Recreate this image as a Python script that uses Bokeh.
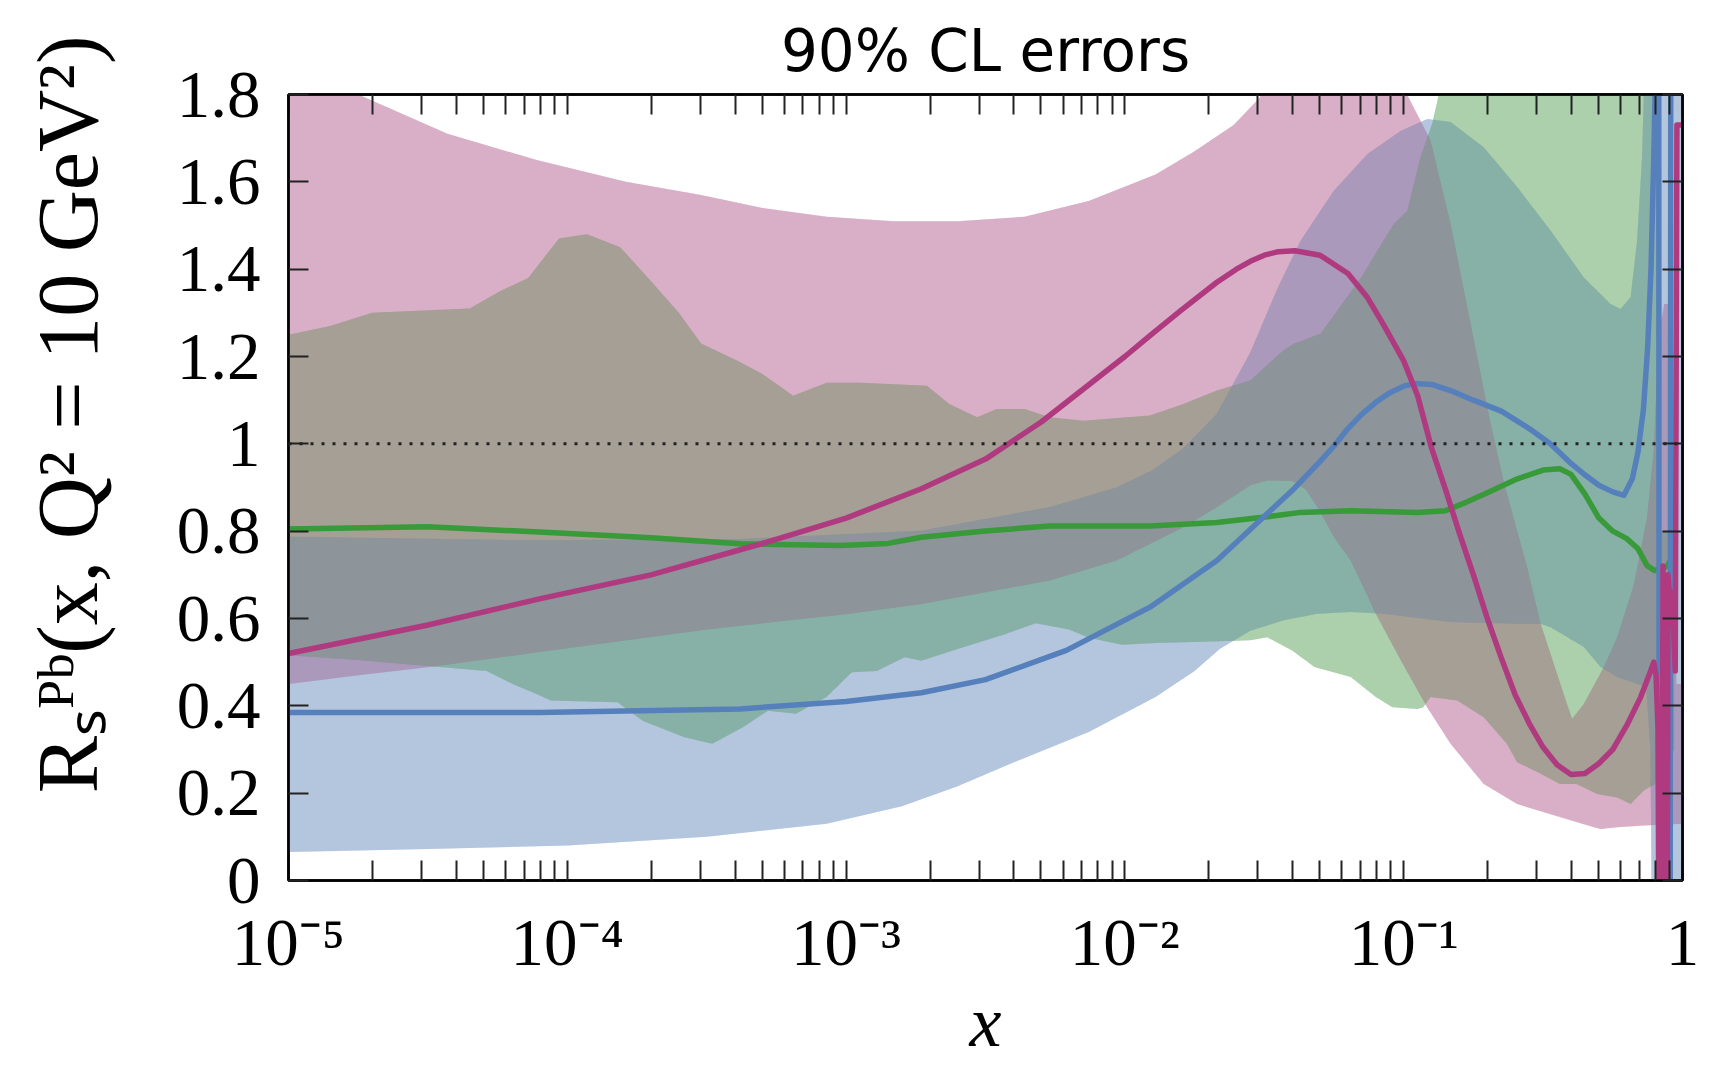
import numpy as np
from itertools import permutations
from bokeh.plotting import figure
from bokeh.models import Range1d, FixedTicker, LogAxis, LinearAxis, Span
from bokeh.embed import file_html
from bokeh.resources import INLINE

# ---------------- data (x given as log10(x)) ----------------
pink_upper_logx = [-5.0, -4.75, -4.43, -4.11, -3.79, -3.52, -3.30, -3.07, -2.83, -2.60, -2.36, -2.13, -1.89, -1.75,
                   -1.61, -1.52, -1.45, -1.25, -1.08, -0.988, -0.904, -0.832, -0.760, -0.688, -0.640, -0.557, -0.509,
                   -0.438, -0.396, -0.354, -0.282, -0.234, -0.174, -0.127, -0.103, -0.085, -0.065, -0.035, -0.022, 0.0]
pink_upper = [1.87, 1.80, 1.71, 1.65, 1.60, 1.57, 1.54, 1.52, 1.51, 1.51, 1.52, 1.556, 1.617, 1.67,
              1.73, 1.79, 1.86, 1.95, 1.88, 1.80, 1.695, 1.504, 1.275, 1.046, 0.91, 0.717, 0.588,
              0.45, 0.37, 0.404, 0.489, 0.557, 0.679, 0.832, 0.985, 1.25, 1.32, 1.32, 0.45, 0.45]
pink_lower_logx = [-5.0, -4.75, -4.48, -4.1, -3.5, -3.0, -2.73, -2.27, -2.03, -1.79, -1.67, -1.55, -1.49, -1.40,
                   -1.35, -1.30, -1.25, -1.19, -1.10, -1.01, -0.916, -0.832, -0.713, -0.593, -0.473, -0.354, -0.294,
                   -0.234, -0.139, 0.0]
pink_lower = [0.45, 0.47, 0.49, 0.523, 0.575, 0.61, 0.633, 0.687, 0.733, 0.809, 0.855, 0.905, 0.916, 0.915,
              0.895, 0.845, 0.786, 0.733, 0.611, 0.504, 0.397, 0.313, 0.221, 0.175, 0.152, 0.129, 0.118,
              0.122, 0.126, 0.13]

blue_upper_logx = [-5.0, -4.1, -3.38, -2.73, -2.27, -2.03, -1.9, -1.79, -1.67, -1.55, -1.45, -1.37, -1.25, -1.13,
                   -1.01, -0.915, -0.832, -0.713, -0.593, -0.474, -0.354, -0.258, -0.222, -0.186, -0.163, -0.145,
                   -0.139, -0.13, 0.0]
blue_upper = [0.787, 0.779, 0.782, 0.801, 0.855, 0.90, 0.94, 0.99, 1.069, 1.21, 1.36, 1.465, 1.58, 1.664,
              1.717, 1.744, 1.737, 1.679, 1.588, 1.489, 1.381, 1.32, 1.309, 1.336, 1.465, 1.656,
              1.80, 2.2, 2.2]
blue_lower_logx = [-5.0, -4.5, -4.0, -3.5, -3.07, -2.8, -2.6, -2.4, -2.13, -1.89, -1.75, -1.66, -1.55, -1.43,
                   -1.31, -1.19, -1.07, -0.832, -0.593, -0.51, -0.473, -0.354, -0.294, -0.234, -0.13, -0.115,
                   -0.11, 0.0]
blue_lower = [0.065, 0.072, 0.08, 0.10, 0.13, 0.17, 0.216, 0.27, 0.34, 0.42, 0.48, 0.53, 0.572, 0.596,
              0.611, 0.615, 0.611, 0.592, 0.588, 0.588, 0.58, 0.535, 0.489, 0.466, 0.443, 0.3,
              -0.1, -0.1]

green_upper_logx = [-5.0, -4.85, -4.70, -4.35, -4.24, -4.14, -4.03, -3.93, -3.81, -3.71, -3.60, -3.52, -3.39,
                    -3.30, -3.19, -3.07, -2.95, -2.71, -2.63, -2.53, -2.46, -2.36, -2.27, -2.15, -1.91, -1.79,
                    -1.67, -1.55, -1.43, -1.394, -1.298, -1.154, -1.035, -0.987, -0.94, -0.898, -0.874, -0.85,
                    -0.095, -0.085, -0.03]
green_upper = [1.25, 1.27, 1.30, 1.31, 1.35, 1.38, 1.47, 1.48, 1.45, 1.38, 1.30, 1.23, 1.19,
               1.16, 1.11, 1.14, 1.14, 1.133, 1.091, 1.061, 1.08, 1.08, 1.061, 1.053, 1.065, 1.091,
               1.122, 1.145, 1.215, 1.229, 1.252, 1.38, 1.504, 1.534, 1.656, 1.733, 1.80, 2.2,
               2.2, 0.8, 0.8]
green_lower_logx = [-5.0, -4.75, -4.48, -4.29, -4.19, -4.10, -4.06, -3.82, -3.73, -3.58, -3.48, -3.37, -3.28,
                    -3.18, -3.07, -2.98, -2.89, -2.79, -2.73, -2.6, -2.43, -2.32, -2.2, -2.13, -2.01, -1.89,
                    -1.66, -1.55, -1.49, -1.40, -1.32, -1.19, -1.10, -1.04, -0.95, -0.93, -0.904, -0.808,
                    -0.713, -0.63, -0.593, -0.51, -0.44, -0.38, -0.306, -0.234, -0.186, -0.139, -0.1, -0.03]
green_lower = [0.516, 0.505, 0.49, 0.48, 0.448, 0.424, 0.412, 0.408, 0.366, 0.328, 0.313, 0.351, 0.389,
               0.382, 0.42, 0.477, 0.48, 0.511, 0.503, 0.53, 0.564, 0.589, 0.575, 0.556, 0.54, 0.544,
               0.548, 0.55, 0.557, 0.527, 0.489, 0.466, 0.42, 0.397, 0.393, 0.397, 0.42, 0.412,
               0.374, 0.313, 0.271, 0.245, 0.221, 0.221, 0.198, 0.19, 0.175, 0.206, 0.22, 0.3]

magenta_logx = [-5.0, -4.5, -4.1, -3.7, -3.31, -3.0, -2.73, -2.5, -2.3, -2.15, -2.0, -1.91, -1.8, -1.67, -1.6,
                -1.55, -1.5, -1.45, -1.39, -1.3, -1.2, -1.13, -1.07, -1.0, -0.95, -0.9, -0.85, -0.8, -0.75,
                -0.7, -0.65, -0.6, -0.55, -0.5, -0.45, -0.4, -0.35, -0.3, -0.25, -0.2, -0.15, -0.12, -0.103,
                -0.095, -0.088, -0.082, -0.074, -0.07, -0.064, -0.056, -0.052, -0.046, -0.040, -0.034,
                -0.026, -0.02, -0.001]
magenta_y = [0.52, 0.585, 0.645, 0.70, 0.77, 0.83, 0.897, 0.965, 1.05, 1.125, 1.20, 1.248, 1.305, 1.37, 1.40,
             1.418, 1.432, 1.44, 1.442, 1.432, 1.39, 1.335, 1.27, 1.19, 1.11, 0.99, 0.895, 0.795, 0.70,
             0.60, 0.51, 0.425, 0.36, 0.305, 0.265, 0.243, 0.245, 0.268, 0.30, 0.355, 0.42, 0.47, 0.50,
             0.47, 0.35, -0.5, -0.5, 0.72, -0.5, -0.5, 0.70, 0.64, 0.66, 0.61,
             0.48, 1.73, 1.73]

green_logx = [-5.0, -4.5, -4.1, -3.7, -3.38, -3.02, -2.85, -2.73, -2.51, -2.27, -1.91, -1.67, -1.49, -1.37,
              -1.19, -0.95, -0.85, -0.78, -0.7, -0.6, -0.5, -0.44, -0.4, -0.35, -0.3, -0.25, -0.2, -0.16,
              -0.127, -0.1, -0.079, -0.055, -0.043, -0.031]
green_y = [0.805, 0.81, 0.798, 0.785, 0.771, 0.767, 0.772, 0.786, 0.80, 0.812, 0.812, 0.82, 0.833, 0.843,
           0.847, 0.843, 0.847, 0.865, 0.888, 0.918, 0.94, 0.943, 0.93, 0.885, 0.83, 0.80, 0.783, 0.76,
           0.721, 0.71, 0.713, 0.72, 0.733, 0.763]

blue_logx = [-5.0, -4.5, -4.1, -3.38, -3.0, -2.73, -2.5, -2.21, -1.91, -1.67, -1.49, -1.4, -1.3, -1.25, -1.2,
             -1.15, -1.1, -1.05, -1.0, -0.963, -0.9, -0.832, -0.75, -0.65, -0.55, -0.474, -0.4, -0.354, -0.3,
             -0.25, -0.21, -0.18, -0.16, -0.14, -0.125, -0.113, -0.103, -0.097, -0.093, -0.086, -0.083,
             -0.045, -0.041, -0.001]
blue_y = [0.385, 0.385, 0.385, 0.393, 0.41, 0.43, 0.46, 0.527, 0.626, 0.733, 0.84, 0.893, 0.96, 0.995, 1.035,
          1.068, 1.095, 1.117, 1.132, 1.138, 1.136, 1.122, 1.10, 1.075, 1.035, 1.0, 0.955, 0.931, 0.905,
          0.89, 0.882, 0.92, 0.98, 1.08, 1.22, 1.40, 1.656, 1.85, 3.0, 3.0, -1.0,
          -1.0, 3.0, 3.0]

x_ticks = [1e-05, 0.0001, 0.001, 0.01, 0.1, 1.0]
x_tick_labels = ["10\u207b\u2075", "10\u207b\u2074", "10\u207b\u00b3", "10\u207b\u00b2", "10\u207b\u00b9", "1"]
y_ticks = [0.0, 0.2, 0.4, 0.6, 0.8, 1.0, 1.2, 1.4, 1.6, 1.8]
y_tick_labels = ["0", "0.2", "0.4", "0.6", "0.8", "1", "1.2", "1.4", "1.6", "1.8"]

title_text = "90% CL errors"
y_label_text = "R\u209b\u1d3e\u1d47(x, Q\u00b2 = 10 GeV\u00b2)"
x_label_text = "x"

# ---------------- styling ----------------
PINK_FILL, BLUE_FILL, GREEN_FILL = "#b76191", "#7193c1", "#59a75d"
MAGENTA, BLUE, GREEN = "#b03a80", "#5580bb", "#389a38"
SERIF = "Liberation Serif"
ORDERS = list(permutations(range(3)))
PASS_ALPHA = 1.0 - 0.5 ** (1.0 / len(ORDERS))   # thin layers in every order = one 0.5 layer, evenly mixed


def xs(logs):
    return [10.0 ** v for v in logs]


def band(ux, uy, lx, ly):
    return xs(ux) + xs(lx[::-1]), list(uy) + list(ly[::-1])


p = figure(width=1716, height=1066, x_axis_type="log",
           x_range=Range1d(1e-5, 1.0), y_range=Range1d(0.0, 1.8),
           output_backend="svg", toolbar_location=None,
           min_border_left=288, min_border_right=34, min_border_top=94, min_border_bottom=186)
p.xgrid.visible = False
p.ygrid.visible = False
p.background_fill_color = "white"
p.border_fill_color = "white"
p.outline_line_color = "black"
p.outline_line_width = 2.5

bands = [
    band(pink_upper_logx, pink_upper, pink_lower_logx, pink_lower) + (PINK_FILL,),
    band(blue_upper_logx, blue_upper, blue_lower_logx, blue_lower) + (BLUE_FILL,),
    band(green_upper_logx, green_upper, green_lower_logx, green_lower) + (GREEN_FILL,),
]
for order in ORDERS:
    for i in order:
        bx, by, col = bands[i]
        p.patch(x=bx, y=by, fill_color=col, fill_alpha=PASS_ALPHA, line_color=None)

p.add_layout(Span(location=1.0, dimension="width", line_color="#222222", line_width=3, line_dash="3 8"))

p.line(xs(green_logx), green_y, line_color=GREEN, line_width=5.5, line_join="round")
p.line(xs(blue_logx), blue_y, line_color=BLUE, line_width=5.5, line_join="round")
p.line(xs(magenta_logx), magenta_y, line_color=MAGENTA, line_width=5.5, line_join="round")

x_minor = [k * 10.0 ** e for e in range(-5, 0) for k in range(2, 10)]
xticker = FixedTicker(ticks=x_ticks, minor_ticks=x_minor)
yticker = FixedTicker(ticks=y_ticks, minor_ticks=[])

bottom = p.xaxis[0]
left = p.yaxis[0]
bottom.ticker = xticker
left.ticker = yticker
bottom.major_label_overrides = dict(zip(x_ticks, x_tick_labels))
left.major_label_overrides = dict(zip(y_ticks, y_tick_labels))

top = LogAxis(ticker=xticker)
right = LinearAxis(ticker=yticker)
p.add_layout(top, "above")
p.add_layout(right, "right")

for ax in [bottom, left, top, right]:
    ax.major_tick_in = 20
    ax.major_tick_out = 0
    ax.minor_tick_in = 20
    ax.minor_tick_out = 0
    ax.major_tick_line_color = "#222222"
    ax.minor_tick_line_color = "#222222"
    ax.major_tick_line_width = 2
    ax.minor_tick_line_width = 2
    ax.axis_line_color = "black"
    ax.axis_line_width = 2.5
    ax.major_label_text_font = SERIF
    ax.major_label_text_color = "black"

for ax in [left, right]:
    ax.minor_tick_in = 0

bottom.major_label_text_font_size = "67px"
bottom.major_label_standoff = 24
left.major_label_text_font_size = "67px"
left.major_label_standoff = 28
for ax in [top, right]:
    ax.major_label_text_color = None
    ax.major_label_text_font_size = "1px"
    ax.major_label_standoff = 0

# axis titles
bottom.axis_label = x_label_text
bottom.axis_label_text_font = SERIF
bottom.axis_label_text_font_style = "italic"
bottom.axis_label_text_font_size = "72px"
bottom.axis_label_text_color = "black"
bottom.axis_label_standoff = 0

# leading spaces shift the centred label upwards, as in the reference
left.axis_label = "\u2003\u2002\u2009" + y_label_text
left.axis_label_text_font = SERIF
left.axis_label_text_font_style = "normal"
left.axis_label_text_font_size = "86px"
left.axis_label_text_color = "black"
left.axis_label_standoff = 58

p.title.text = title_text
p.title.align = "center"
p.title.text_font = "DejaVu Sans"
p.title.text_font_style = "normal"
p.title.text_font_size = "58px"
p.title.text_color = "black"
p.title.standoff = 19

open("out.html", "w").write(file_html(p, INLINE))
